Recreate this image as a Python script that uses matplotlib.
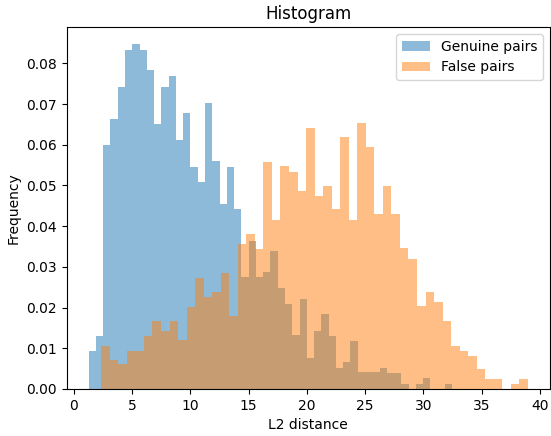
import numpy as np
import matplotlib
matplotlib.use("Agg")
import matplotlib.pyplot as plt

# Histogram densities (50 bins each)
genuine_range = (1.285, 32.48)
genuine_density = [
    0.0092, 0.0130, 0.0600, 0.0664, 0.0742, 0.0832, 0.0847, 0.0832, 0.0783, 0.0652,
    0.0742, 0.0768, 0.0611, 0.0677, 0.0546, 0.0509, 0.0703, 0.0560, 0.0454, 0.0546,
    0.0443, 0.0276, 0.0363, 0.0276, 0.0288, 0.0339, 0.0247, 0.0209, 0.0133, 0.0221,
    0.0077, 0.0142, 0.0183, 0.0130, 0.0051, 0.0065, 0.0118, 0.0041, 0.0041, 0.0041,
    0.0052, 0.0038, 0.0038, 0.0013, 0.0000, 0.0013, 0.0028, 0.0000, 0.0000, 0.0013,
]

false_range = (2.37, 38.97)
false_density = [
    0.0106, 0.0070, 0.0061, 0.0093, 0.0093, 0.0130, 0.0166, 0.0143, 0.0166, 0.0119,
    0.0202, 0.0272, 0.0227, 0.0238, 0.0284, 0.0179, 0.0357, 0.0380, 0.0345, 0.0558,
    0.0416, 0.0547, 0.0533, 0.0487, 0.0642, 0.0474, 0.0498, 0.0441, 0.0619, 0.0416,
    0.0654, 0.0595, 0.0429, 0.0498, 0.0429, 0.0346, 0.0320, 0.0203, 0.0238, 0.0214,
    0.0168, 0.0106, 0.0094, 0.0081, 0.0048, 0.0024, 0.0024, 0.0000, 0.0012, 0.0024,
]

labels = ["Genuine pairs", "False pairs"]

fig = plt.figure(figsize=(5.51, 4.36), dpi=100)
ax = fig.add_axes([0.121, 0.108, 0.877, 0.830])

g_edges = np.linspace(genuine_range[0], genuine_range[1], len(genuine_density) + 1)
f_edges = np.linspace(false_range[0], false_range[1], len(false_density) + 1)

ax.hist(g_edges[:-1], bins=g_edges, weights=genuine_density, alpha=0.5, label=labels[0])
ax.hist(f_edges[:-1], bins=f_edges, weights=false_density, alpha=0.5, label=labels[1])

ax.set_title("Histogram")
ax.set_xlabel("L2 distance")
ax.set_ylabel("Frequency")
ax.legend(loc="upper right")

fig.savefig("out.png", dpi=100)
